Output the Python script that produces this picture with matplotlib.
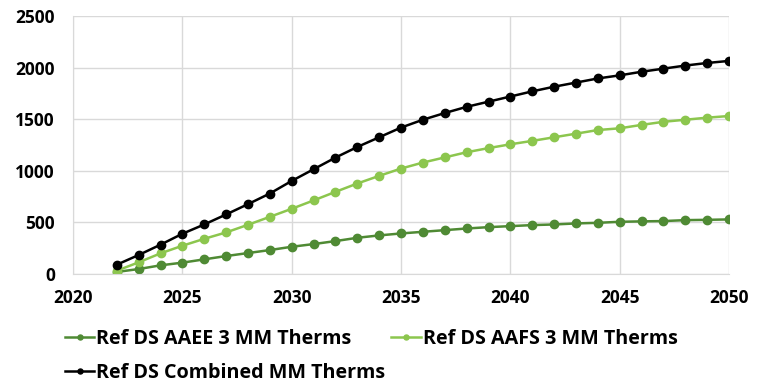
import numpy as np
import matplotlib.pyplot as plt

years = list(range(2022, 2051))

aaee = [20, 48, 84, 110, 142, 174, 203, 232, 264, 290, 319, 351, 374, 393,
        409, 425, 441, 454, 464, 474, 480, 490, 496, 506, 510, 513, 522, 525, 529]
aafs = [32, 113, 200, 274, 341, 403, 477, 554, 632, 713, 796, 877, 951, 1022,
        1080, 1130, 1180, 1220, 1257, 1290, 1325, 1360, 1395, 1412, 1445, 1475, 1495, 1515, 1531]
combined = [90, 184, 284, 390, 480, 577, 677, 780, 902, 1015, 1128, 1231, 1325, 1419,
            1495, 1560, 1620, 1670, 1720, 1770, 1815, 1855, 1895, 1925, 1960, 1990, 2020, 2045, 2065]

labels = ["Ref DS AAEE 3 MM Therms", "Ref DS AAFS 3 MM Therms", "Ref DS Combined MM Therms"]
colors = ["#4F8A34", "#8CC64E", "#000000"]

plt.rcParams["font.family"] = ["Open Sans", "DejaVu Sans"]

fig = plt.figure(figsize=(7.6, 3.85), dpi=100)
ax = fig.add_axes([0.0961, 0.2883, 0.8632, 0.6701])

lines = []
for vals, lab, col in zip([aaee, aafs, combined], labels, colors):
    ln, = ax.plot(years, vals, color=col, lw=1.8, marker="o", ms=6, label=lab)
    lines.append(ln)

ax.set_xlim(2020, 2050)
ax.set_ylim(0, 2500)
ax.set_xticks(range(2020, 2051, 5))
ax.set_yticks(range(0, 2501, 500))
ax.set_xticklabels([str(v) for v in range(2020, 2051, 5)], fontweight="bold", fontsize=12.5)
ax.set_yticklabels([str(v) for v in range(0, 2501, 500)], fontweight="bold", fontsize=12.5)
ax.grid(True, color="#d9d9d9", lw=1)
ax.set_axisbelow(True)
for s in ["top", "right"]:
    ax.spines[s].set_visible(False)
for s in ["left", "bottom"]:
    ax.spines[s].set_color("#d9d9d9")
ax.tick_params(axis="x", length=0, pad=11)
ax.tick_params(axis="y", length=0, pad=13)

# row-major order: AAEE, AAFS on first row, Combined below
order = [0, 2, 1]
fig.legend([lines[i] for i in order], [labels[i] for i in order],
           loc="upper left", bbox_to_anchor=(0.062, 0.192), ncol=2,
           frameon=False, handlelength=1.5, handletextpad=0.1,
           columnspacing=0.3, labelspacing=0.7, markerscale=0.6,
           prop={"weight": "bold", "size": 14.2})

fig.savefig("out.png", dpi=100)
